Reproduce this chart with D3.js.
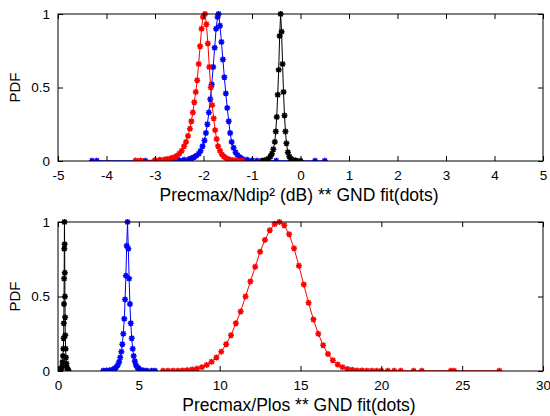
<!DOCTYPE html>
<html><head><meta charset="utf-8">
<script src="https://cdn.jsdelivr.net/npm/d3@7"></script>
<style>body{margin:0;background:#fff}svg{display:block;font-family:"Liberation Sans",Arial,sans-serif}</style>
</head><body>
<svg id="c" width="550" height="416"></svg>
<script>
// ---- Top panel data (Precmax/Ndip^2 dB) ----
const topXTicks = [-5,-4,-3,-2,-1,0,1,2,3,4,5];
const yTicks = [0, 0.5, 1];
const topRedX = [-3.4,-3.3,-3.0,-2.9,-2.8,-2.75,-2.7,-2.65,-2.6,-2.55,-2.5,-2.45,-2.4,-2.36,-2.32,-2.28,-2.25,-2.22,-2.19,-2.16,-2.13,-2.10,-2.07,-2.04,-2.01,-1.97,-1.94,-1.91,-1.88,-1.85,-1.82,-1.79,-1.76,-1.73,-1.70,-1.66,-1.62,-1.58,-1.54,-1.50,-1.45,-1.40,-1.35,-1.30,-1.25,-1.2];
const topRedY = [0.003,0.004,0.006,0.008,0.01,0.012,0.015,0.02,0.025,0.035,0.05,0.07,0.10,0.13,0.17,0.22,0.27,0.33,0.40,0.47,0.55,0.66,0.78,0.90,0.98,1.0,0.93,0.80,0.64,0.50,0.38,0.29,0.21,0.15,0.10,0.07,0.045,0.03,0.02,0.013,0.008,0.005,0.003,0.002,0.002,0.001];
const topBlueX = [-4.3,-4.2,-3.2,-2.9,-2.6,-2.5,-2.4,-2.3,-2.25,-2.2,-2.15,-2.1,-2.06,-2.02,-1.98,-1.95,-1.92,-1.89,-1.86,-1.83,-1.80,-1.77,-1.74,-1.71,-1.69,-1.66,-1.63,-1.60,-1.57,-1.54,-1.51,-1.48,-1.45,-1.42,-1.38,-1.34,-1.30,-1.25,-1.2,-1.1,-1.0,-0.9,-0.5,-0.1,0.3,0.5];
const topBlueY = [0.002,0.002,0.001,0.002,0.003,0.005,0.008,0.012,0.018,0.025,0.035,0.05,0.07,0.10,0.14,0.19,0.25,0.33,0.42,0.52,0.64,0.77,0.90,0.98,1.0,0.92,0.81,0.69,0.57,0.46,0.36,0.27,0.19,0.13,0.09,0.06,0.04,0.025,0.015,0.008,0.004,0.002,0.002,0.001,0.001,0.001];
const topBlackX = [-0.8,-0.75,-0.7,-0.66,-0.62,-0.59,-0.56,-0.53,-0.51,-0.49,-0.47,-0.45,-0.43,-0.41,-0.39,-0.37,-0.35,-0.33,-0.31,-0.29,-0.26,-0.23,-0.2,-0.15,-0.1,0.0];
const topBlackY = [0.002,0.004,0.008,0.015,0.03,0.05,0.08,0.13,0.2,0.3,0.45,0.62,0.85,1.0,0.88,0.66,0.47,0.31,0.2,0.12,0.06,0.03,0.015,0.006,0.003,0.001];

// ---- Bottom panel data (Precmax/Plos) ----
const botXTicks = [0,5,10,15,20,25,30];
const botBlackX = [0.15,0.2,0.25,0.28,0.31,0.33,0.35,0.36,0.37,0.38,0.39,0.40,0.41,0.42,0.43,0.44,0.45,0.47,0.49,0.52,0.55,0.6,0.65];
const botBlackY = [0.002,0.01,0.03,0.06,0.1,0.15,0.22,0.32,0.45,0.62,0.82,1.0,0.85,0.66,0.5,0.36,0.24,0.15,0.09,0.05,0.025,0.01,0.003];
const botBlueX = [2.8,3.0,3.2,3.4,3.5,3.6,3.7,3.78,3.85,3.92,3.98,4.04,4.1,4.15,4.2,4.25,4.3,4.35,4.4,4.45,4.5,4.56,4.62,4.68,4.75,4.82,4.9,5.0,5.1,5.3,5.5,5.8,6.0];
const botBlueY = [0.002,0.003,0.005,0.01,0.015,0.025,0.04,0.06,0.09,0.13,0.18,0.25,0.35,0.48,0.64,0.84,1.0,0.82,0.62,0.45,0.32,0.22,0.15,0.10,0.065,0.04,0.025,0.015,0.008,0.004,0.002,0.002,0.001];
const botRedX = [6.5,6.8,7.1,7.4,7.7,8.0,8.3,8.6,8.9,9.2,9.5,9.8,10.1,10.4,10.7,11.0,11.3,11.6,11.9,12.2,12.5,12.8,13.1,13.4,13.7,14.0,14.3,14.6,14.9,15.2,15.5,15.8,16.1,16.4,16.7,17.0,17.3,17.6,17.9,18.2,18.5,18.8,19.1,19.4,19.7,20.0,20.4,20.8,21.2,22.0,22.5,24.3,24.5,27.3];
const botRedY = [0.001,0.001,0.002,0.002,0.003,0.006,0.010,0.016,0.026,0.041,0.062,0.091,0.13,0.18,0.24,0.32,0.40,0.50,0.60,0.70,0.80,0.88,0.945,0.986,1.0,0.978,0.917,0.823,0.707,0.58,0.458,0.345,0.25,0.173,0.114,0.072,0.044,0.026,0.014,0.008,0.004,0.003,0.002,0.002,0.001,0.001,0.001,0.001,0.001,0.001,0.001,0.001,0.001,0.001];

const panels = [
  {top:14, bottom:161, domain:[-5,5], ticks:topXTicks, label:"Precmax/Ndip\u00B2 (dB) ** GND fit(dots)",
   series:[{x:topBlueX,y:topBlueY,c:"#0000ff"},{x:topRedX,y:topRedY,c:"#ff0000"},{x:topBlackX,y:topBlackY,c:"#000000"}]},
  {top:222, bottom:371, domain:[0,30], ticks:botXTicks, label:"Precmax/Plos ** GND fit(dots)",
   series:[{x:botRedX,y:botRedY,c:"#ff0000"},{x:botBlueX,y:botBlueY,c:"#0000ff"},{x:botBlackX,y:botBlackY,c:"#000000"}]}
];
const L = 58, R = 543;
const svg = d3.select("#c");

panels.forEach(p => {
  const x = d3.scaleLinear().domain(p.domain).range([L, R]);
  const y = d3.scaleLinear().domain([0,1]).range([p.bottom, p.top]);
  const g = svg.append("g");
  const clipId = "clip" + p.top;
  svg.append("clipPath").attr("id", clipId).append("rect")
    .attr("x", L).attr("y", p.top - 4).attr("width", R - L).attr("height", p.bottom - p.top + 4);

  p.series.forEach(s => {
    const pts = s.x.map((v,i)=>[v, s.y[i]]);
    const sg = g.append("g").attr("clip-path", `url(#${clipId})`);
    sg.append("path").datum(pts)
      .attr("d", d3.line().x(d=>x(d[0])).y(d=>y(d[1])))
      .attr("fill","none").attr("stroke", s.c).attr("stroke-width",1);
    sg.selectAll("path.m").data(pts).join("path").attr("class","m")
      .attr("transform", d=>`translate(${x(d[0])},${y(d[1])})`)
      .attr("d", "M-3,0H3M0,-3V3M-2.2,-2.2L2.2,2.2M-2.2,2.2L2.2,-2.2")
      .attr("stroke", s.c).attr("stroke-width",1.5).attr("fill","none");
  });

  const tickLen = 5;
  const bx = d3.axisBottom(x).tickValues(p.ticks).tickSizeInner(-tickLen).tickSizeOuter(0).tickPadding(9).tickFormat(d=>String(d));
  const tx = d3.axisTop(x).tickValues(p.ticks).tickSizeInner(-tickLen).tickSizeOuter(0).tickFormat("");
  const ly = d3.axisLeft(y).tickValues(yTicks).tickSizeInner(-tickLen).tickSizeOuter(0).tickPadding(8).tickFormat(d=>String(d));
  const ry = d3.axisRight(y).tickValues(yTicks).tickSizeInner(-tickLen).tickSizeOuter(0).tickFormat("");
  [[bx,`translate(0,${p.bottom})`],[tx,`translate(0,${p.top})`],[ly,`translate(${L},0)`],[ry,`translate(${R},0)`]].forEach(([ax,tr])=>{
    const a = g.append("g").attr("transform",tr).call(ax);
    a.select(".domain").remove();
    a.selectAll("line").attr("stroke","#000").attr("stroke-width",1);
    a.selectAll("text").attr("font-size",13.5).attr("fill","#000").attr("font-family","'Liberation Sans',Arial,sans-serif");
  });
  g.append("rect").attr("x",L).attr("y",p.top).attr("width",R-L).attr("height",p.bottom-p.top)
    .attr("fill","none").attr("stroke","#000").attr("stroke-width",1);

  g.append("text").attr("x",299).attr("y",p.bottom+40).attr("text-anchor","middle")
    .attr("font-size",17.5).attr("fill","#000").text(p.label);
  g.append("text").attr("transform",`translate(20,${(p.top+p.bottom)/2}) rotate(-90)`)
    .attr("text-anchor","middle").attr("font-size",15).attr("fill","#000").text("PDF");
});
</script>
</body></html>
